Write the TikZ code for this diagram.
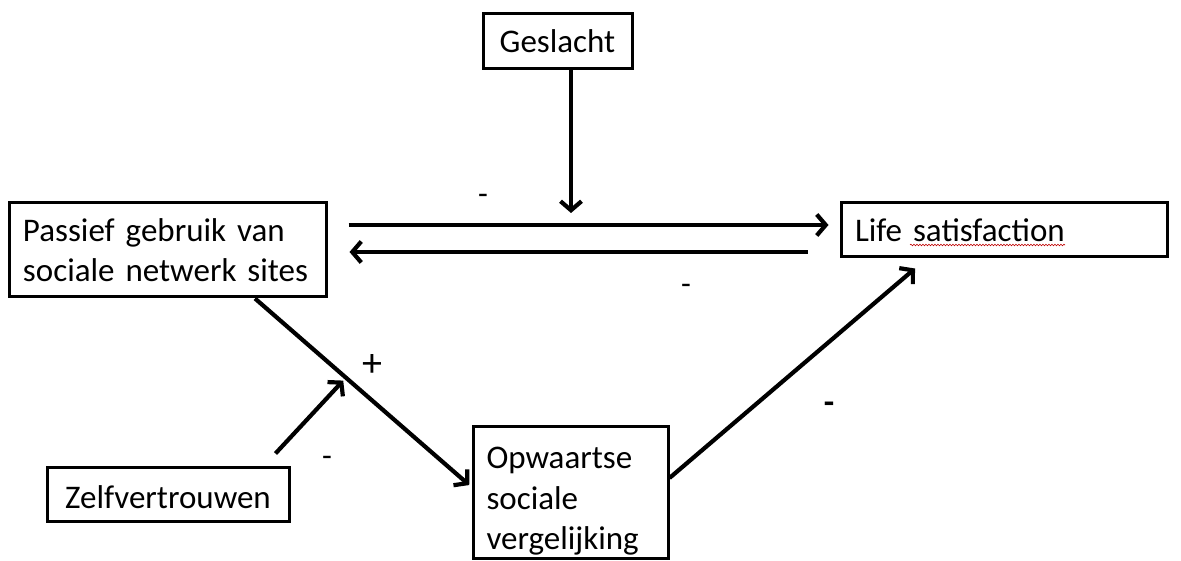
\documentclass[tikz,border=0pt]{standalone}
\usepackage{fontspec}
\setmainfont{Carlito}
\usetikzlibrary{arrows.meta,decorations.pathmorphing}
\begin{document}
\begin{tikzpicture}[x=1pt,y=-1pt,
  box/.style={draw=black,line width=3pt,fill=white,inner sep=0pt,
    font=\fontsize{33}{40.5}\selectfont},
  arr/.style={line width=4.2pt,-{Straight Barb[length=9pt,width=21pt,line width=4.2pt]}},
  lab/.style={font=\fontsize{32}{36}\selectfont,inner sep=0pt},
  plab/.style={font=\fontsize{40}{44}\selectfont,inner sep=0pt},
  blab/.style={font=\bfseries\fontsize{34}{38}\selectfont,inner sep=0pt}]
\useasboundingbox (0,0) rectangle (1181,561);
\fill[white] (0,0) rectangle (1181,561);

\node[box,minimum width=149pt,minimum height=55pt] (gesl) at (557.5,41.5) {Geslacht};
\node[box,minimum width=317pt,minimum height=94pt,text width=289pt,inner xsep=14pt,align=left] (pas) at (167.5,250) {Passief gebruik van\\sociale netwerk sites};
\node[box,minimum width=326pt,minimum height=54pt,text width=298pt,inner xsep=14pt,align=left] (life) at (1004,230) {Life satisfaction};
\node[box,minimum width=195pt,minimum height=132pt,text width=168pt,inner xsep=13.5pt,align=left] (opw) at (570.5,492) {\rule{0pt}{40pt}Opwaartse\\sociale\\vergelijking};
\node[box,minimum width=242pt,minimum height=54pt] (zelf) at (168,494) {\rule{0pt}{30pt}Zelfvertrouwen};

% spell-check underline
\draw[red!75!black,line width=0.6pt,decorate,decoration={snake,amplitude=0.8pt,segment length=3pt}] (910,245) -- (1065,245);

\coordinate (up) at (0,225);
\coordinate (lo) at (0,252);
\coordinate (gtip) at (571,213);

\draw[arr] (gesl.south -| gtip) -- (gtip);
\draw[arr,shorten <=21pt,shorten >=11pt] (pas.east |- up) -- (life.west |- up);
\draw[arr,shorten <=32pt,shorten >=22pt] (life.west |- lo) -- (pas.east |- lo);

\draw[arr,shorten >=3pt] ([xshift=87.5pt]pas.south) -- coordinate[pos=0.42] (mod) ([yshift=5pt]opw.west);
\draw[arr,shorten >=4pt] ([xshift=-15pt,yshift=12pt]zelf.north east) -- (mod);
\draw[arr] ([yshift=14pt]opw.east) -- ([xshift=-89pt,yshift=-10pt]life.south);

\node[lab] (m1) at (483,199) {-};
\node[lab] (m2) at (686,289) {-};
\node[plab] (p1) at (372,366) {+};
\node[lab] (m3) at (327,461) {-};
\node[blab] (m4) at (829,408) {-};
\end{tikzpicture}
\end{document}
